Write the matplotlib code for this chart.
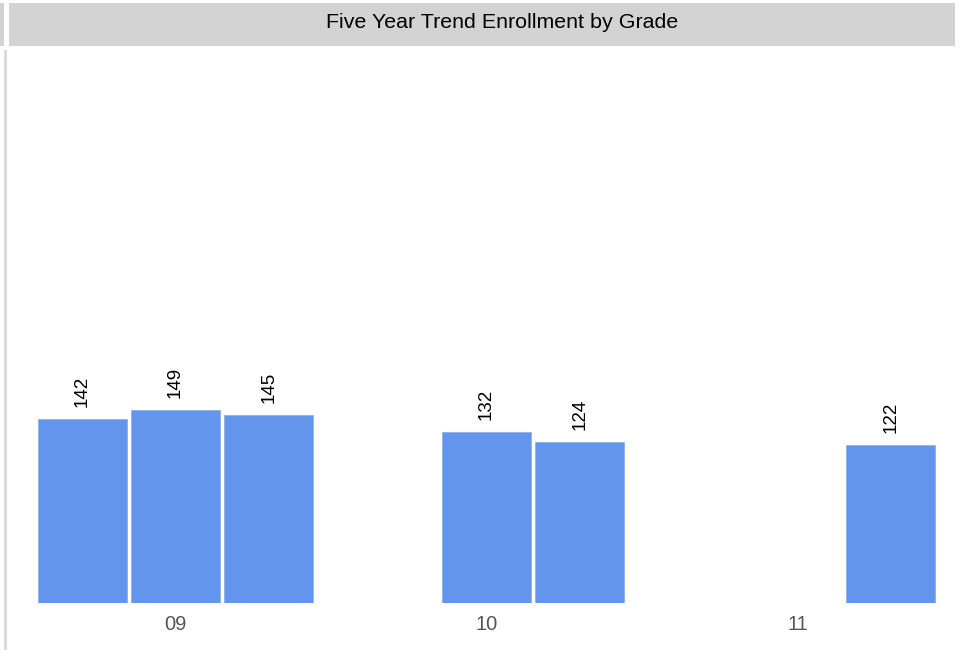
import matplotlib
matplotlib.use("Agg")
import matplotlib.pyplot as plt
import numpy as np

plt.rcParams['font.family'] = ['Liberation Sans', 'DejaVu Sans']

grades = ["09", "10", "11"]
year_a = [142, np.nan, np.nan]
year_b = [149, 132, np.nan]
year_c = [145, 124, 122]
series = [year_a, year_b, year_c]

W, H = 972, 653
fig = plt.figure(figsize=(W / 100, H / 100), dpi=100)
fig.patch.set_facecolor("white")

# title bar
fig.patches.append(plt.Rectangle((9 / W, 1 - 46 / H), (955 - 9) / W, 43 / H,
                                 transform=fig.transFigure, facecolor="#d3d3d3",
                                 edgecolor="none", zorder=0))
fig.patches.append(plt.Rectangle((0, 1 - 46 / H), 4 / W, 43 / H,
                                 transform=fig.transFigure, facecolor="#d3d3d3",
                                 edgecolor="none", zorder=0))
# left strip
fig.patches.append(plt.Rectangle((4 / W, 1 - 650 / H), 3 / W, 600 / H,
                                 transform=fig.transFigure, facecolor="#dadada",
                                 edgecolor="none", zorder=0))
fig.text(502.5 / W, 1 - 22 / H, "Five Year Trend Enrollment by Grade",
         ha="center", va="center", fontsize=15.4, color="black")

left = 20 / W
right = 953 / W
bottom = (H - 602.5) / H
top = (H - 50) / H
ax = fig.add_axes([left, bottom, right - left, top - bottom])
ax.set_facecolor("none")

x = np.arange(len(grades))
slot = 0.3
bw = 0.286
color = "#6495ed"
for i, vals in enumerate(series):
    pos = x + (i - 1) * slot
    v = np.array(vals, dtype=float)
    mask = ~np.isnan(v)
    ax.bar(pos[mask], v[mask], width=bw, color=color, edgecolor="#8fb0f0",
           linewidth=0.6)
    for p, val in zip(pos[mask], v[mask]):
        ax.annotate(f"{int(val)}", (p, val), xytext=(0, 9),
                    textcoords="offset points", rotation=90,
                    ha="center", va="bottom", fontsize=13.5, color="black")

ax.set_xlim(-0.5, 2.5)
ax.set_ylim(0, 428)
ax.set_xticks(x)
ax.set_xticklabels(grades, fontsize=14.5, color="#555555")
ax.tick_params(axis="x", length=0, pad=9)
ax.set_yticks([])
for s in ax.spines.values():
    s.set_visible(False)

fig.savefig("out.png", dpi=100)
